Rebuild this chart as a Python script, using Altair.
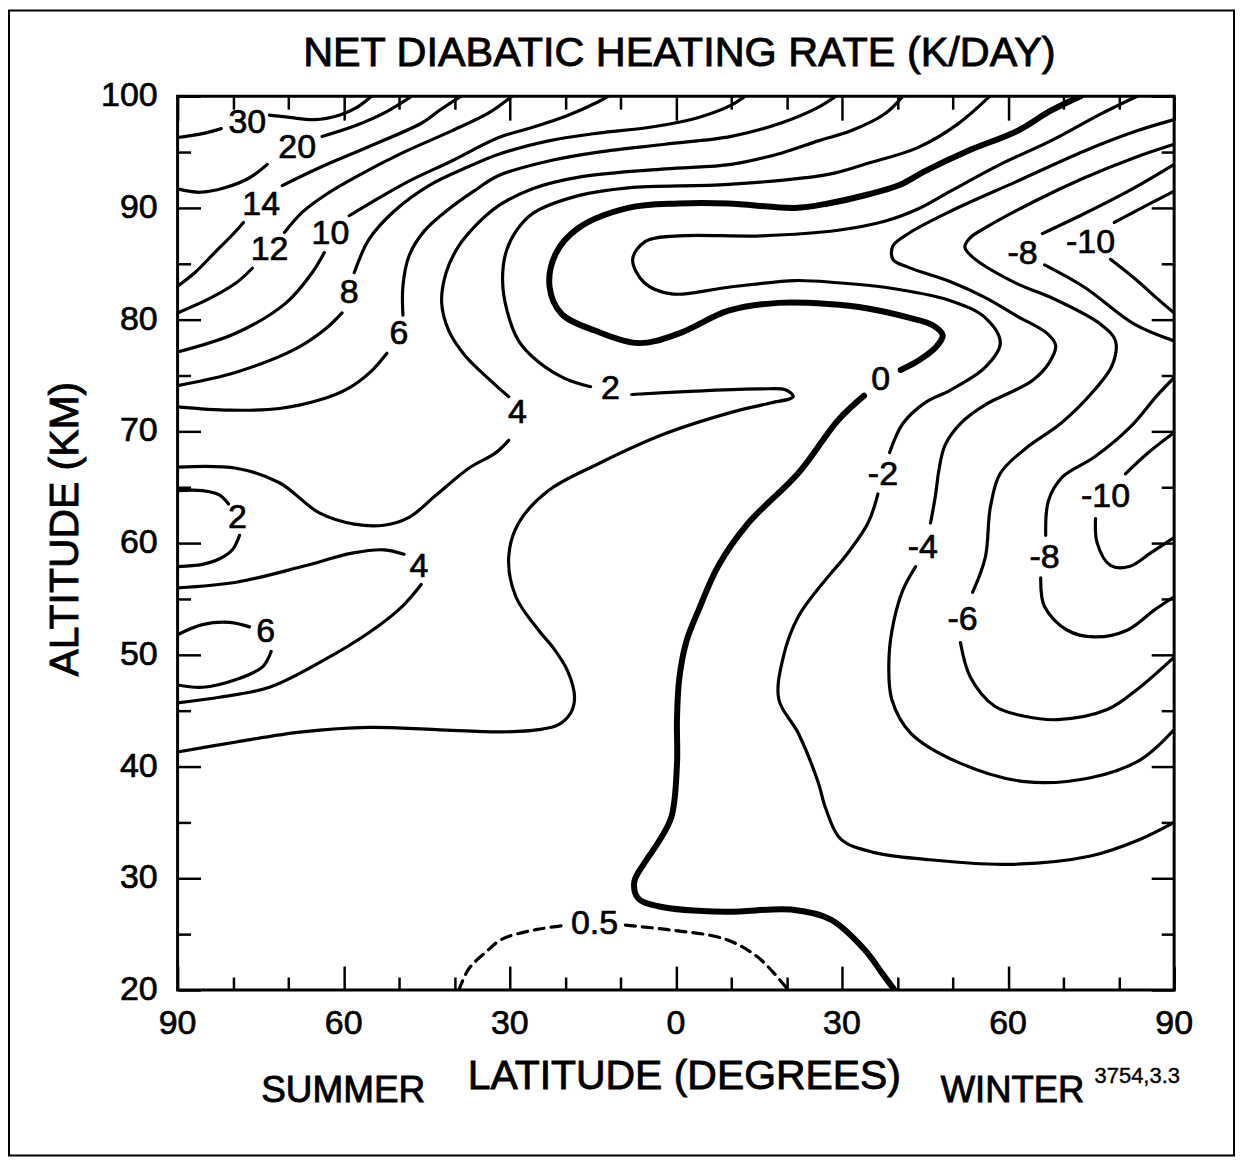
import altair as alt
import pandas as pd

# Latitude in degrees: negative = summer hemisphere (left), positive = winter hemisphere (right)
# Altitude in km. Each contour is split where its label interrupts it.

# +30
c30_lat_1 = [-90, -86.0, -82.1]
c30_alt_1 = [96.3, 96.6, 97.1]
c30_lat_2 = [-73.4, -69.8, -65.3, -60.8, -57.6, -55.0]
c30_alt_2 = [98.3, 98.1, 97.9, 98.3, 99.0, 100]
# +20
c20_lat_1 = [-90, -86.0, -81.5, -77.0, -73.8]
c20_alt_1 = [91.7, 91.4, 91.8, 92.7, 93.9]
c20_lat_2 = [-63.9, -57.7, -52.3, -47.7]
c20_alt_2 = [96.4, 97.4, 98.6, 100]
# +14
c14_lat_1 = [-90, -86.9, -83.3, -79.7, -78.1]
c14_alt_1 = [83.0, 84.2, 86.0, 87.8, 88.7]
c14_lat_2 = [-71.1, -64.4, -55.4, -45.9, -42.8, -38.8]
c14_alt_2 = [92.0, 93.6, 95.5, 97.6, 98.7, 100]
# +12
c12_lat_1 = [-90, -84.2, -79.4, -76.5]
c12_alt_1 = [80.6, 81.9, 83.3, 84.6]
c12_lat_2 = [-70.7, -67.5, -63.2, -57.7, -49.5, -40.5, -33.8, -29.6]
c12_alt_2 = [87.8, 89.6, 91.2, 92.8, 94.9, 96.9, 98.5, 100]
# +10
c10_lat_1 = [-90, -79.4, -70.4, -65.7, -63.5]
c10_alt_1 = [77.1, 78.8, 81.5, 84.2, 86.0]
c10_lat_2 = [-59.0, -53.6, -48.2, -40.5, -32.0, -26.0, -19.9, -14.0, -12.2]
c10_alt_2 = [89.3, 90.9, 92.4, 94.2, 96.3, 97.2, 98.2, 99.5, 100]
# +8
c8_lat_1 = [-90, -79.4, -68.6, -63.2, -60.3]
c8_alt_1 = [74.1, 75.3, 77.4, 79.2, 80.6]
c8_lat_2 = [-58.1, -55.4, -50.9, -44.6, -37.4, -32.0, -23.0, -14.0, -5.0, 4.1, 10.0, 12.5]
c8_alt_2 = [84.2, 87.2, 89.7, 92.0, 93.7, 94.8, 96.0, 96.7, 97.2, 98.1, 99.2, 100]
# +6 (upper)
c6_lat_1 = [-90, -80.6, -71.6, -64.4, -59.0, -55.0, -52.2]
c6_alt_1 = [72.2, 71.9, 72.05, 72.8, 73.9, 75.4, 77.0]
c6_lat_2 = [-49.3, -49.3, -48.2, -45.5, -41.0, -36.5, -32.0, -23.0, -14.0, -1.9, 10.0, 19.0, 25.7, 28.9]
c6_alt_2 = [80.4, 83.0, 85.7, 87.9, 89.9, 91.5, 92.9, 94.2, 95.0, 95.7, 96.4, 97.6, 99.0, 100]
# +4 (upper)
c4_lat_1 = [-90, -79.4, -71.6, -64.4, -58.1, -52.7, -48.2, -43.3, -37.4, -32.5, -30.2]
c4_alt_1 = [66.8, 66.7, 65.4, 62.7, 61.7, 61.6, 62.3, 64.3, 66.7, 68.1, 69.2]
c4_lat_2 = [-30.2, -33.8, -38.1, -41.0, -42.3, -41.5, -39.2, -35.6, -32.0, -26.0, -17.0, -1.9,
            10.0, 19.0, 25.7, 31.6, 37.7, 41.0]
c4_alt_2 = [73.1, 74.7, 76.8, 79.0, 81.5, 84.2, 86.6, 88.7, 90.2, 91.7, 92.8, 93.5,
            93.9, 94.9, 96.0, 96.9, 98.4, 100]
# +2 tongue near the summer pole
c2t_lat_1 = [-90, -85.5, -82.4, -80.8]
c2t_alt_1 = [64.7, 64.7, 64.3, 63.5]
c2t_lat_2 = [-78.8, -80.1, -82.4, -85.5, -90]
c2t_alt_2 = [60.7, 59.4, 58.6, 58.1, 57.9]
# +4 tongue (stratopause)
c4t_lat_1 = [-90, -79.4, -67.5, -58.5, -52.7, -49.1]
c4t_alt_1 = [56.0, 56.5, 57.9, 59.1, 59.4, 59.0]
c4t_lat_2 = [-46.0, -49.5, -55.4, -64.4, -73.4, -82.4, -90]
c4t_alt_2 = [56.3, 54.3, 52.0, 49.3, 47.1, 46.2, 45.7]
# +6 tongue
c6t_lat_1 = [-90, -85.5, -80.6, -77.0]
c6t_alt_1 = [51.8, 52.7, 52.9, 52.5]
c6t_lat_2 = [-73.1, -74.7, -79.4, -85.5, -90]
c6t_alt_2 = [50.3, 48.9, 47.8, 47.1, 47.3]
# +2 main
c2_lat_1 = [-90, -79.4, -67.5, -55.4, -43.3, -31.4, -24.8, -21.2, -19.0, -18.3, -19.5, -22.1,
            -24.8, -28.9, -30.2, -28.4, -23.0, -14.0, -1.9, 10.0, 16.7, 21.2, 19.9, 15.4, 3.5, -8.0]
c2_alt_1 = [41.3, 42.2, 43.1, 43.5, 43.3, 43.1, 43.3, 43.75, 44.8, 46.2, 48.5, 50.6,
            52.2, 55.2, 58.75, 61.8, 64.7, 67.1, 69.8, 71.7, 72.5, 73.1, 73.7, 73.8, 73.6, 73.3]
c2_lat_2 = [-15.4, -19.9, -24.8, -28.4, -30.5, -31.3, -30.7, -28.9, -25.7, -17.6, -8.6, 9.5,
            27.5, 34.7, 43.7, 50.9, 56.7]
c2_alt_2 = [74.0, 74.7, 76.2, 78.1, 80.8, 83.5, 86.0, 87.9, 89.55, 91.1, 91.8, 92.1,
            93.0, 94.0, 95.4, 97.5, 100]
# 0 (heavy line)
c0_lat_1 = [73.1, 67.7, 61.7, 52.7, 45.0, 40.6, 34.7, 27.5, 21.5, 9.5, 0.5, -8.6, -17.6, -21.7,
            -22.8, -20.6, -14.5, -6.8, 0.5, 9.5, 18.5, 27.5, 34.7, 41.9, 46.4, 48.2, 46.9, 43.7, 40.6]
c0_alt_1 = [100, 98.7, 96.9, 95.1, 93.3, 92.1, 91.2, 90.4, 90.0, 90.4, 90.4, 90.0, 88.2, 85.9,
            82.9, 80.5, 79.0, 77.9, 78.75, 80.8, 81.5, 81.4, 81.0, 80.2, 79.5, 78.6, 77.5, 76.3, 75.5]
c0_lat_2 = [34.0, 29.3, 22.1, 13.1, 7.7, 4.1, 1.9, 0.6, 0.2, 0.2, -0.8, -3.2, -5.5, -7.5,
            -6.8, -3.2, 8.9, 20.8, 28.0, 34.1, 37.4, 39.5]
c0_alt_2 = [73.2, 71.0, 66.25, 61.8, 58.0, 54.0, 51.2, 47.8, 44.2, 40.2, 35.5, 33.2, 31.5, 29.7,
            28.2, 27.5, 27.0, 27.2, 26.3, 23.6, 21.4, 20]
# 0.5 (dashed)
c05_lat_1 = [-39.2, -37.4, -34.3, -31.4, -25.3, -19.7]
c05_alt_1 = [20, 21.9, 23.4, 24.55, 25.4, 25.8]
c05_lat_2 = [-9.1, -1.4, 8.9, 14.9, 20.3]
c05_alt_2 = [25.8, 25.4, 24.55, 22.9, 20]
# -2
cm2_lat_1 = [83.3, 76.7, 67.7, 58.6, 49.6, 43.7, 37.7, 29.3, 15.4, 0.5, -5.5, -7.8, -5.7, -0.8,
             9.5, 21.5, 29.3, 37.7, 49.6, 55.8, 58.6, 55.8, 49.6, 45.1, 41.0, 38.6]
cm2_alt_1 = [100, 98.4, 96.0, 93.9, 91.5, 89.9, 88.8, 88.0, 87.5, 87.5, 87.0, 85.4, 83.3, 82.3,
             82.9, 83.5, 83.3, 82.9, 81.7, 80.2, 77.9, 75.7, 73.7, 72.6, 70.7, 68.1]
cm2_lat_2 = [36.5, 34.7, 30.5, 27.5, 22.1, 19.4, 18.6, 22.1, 25.7, 27.1, 29.8, 35.9, 45.0, 59.9,
             74.9, 83.9, 90]
cm2_alt_2 = [64.4, 61.8, 58.75, 57.0, 53.4, 49.8, 46.0, 43.0, 38.6, 36.2, 33.5, 32.3, 31.7, 31.25,
             32.0, 33.5, 35.0]
# -4
cm4_lat_1 = [90, 83.3, 73.8, 61.7, 49.6, 42.3, 39.2, 39.2, 41.9, 49.6, 55.8, 61.7, 67.1, 68.6,
             67.5, 64.4, 60.5, 56.3, 51.4, 48.6, 47.5, 46.9, 46.0]
cm4_alt_1 = [97.9, 96.9, 95.1, 92.4, 89.7, 87.8, 86.6, 85.4, 84.7, 83.4, 82.0, 80.3, 78.75, 77.7,
             76.2, 74.55, 73.5, 72.5, 70.7, 68.75, 66.5, 64.3, 61.8]
cm4_lat_2 = [43.3, 41.0, 39.4, 38.5, 39.0, 42.4, 50.9, 63.0, 74.9, 83.9, 90]
cm4_alt_2 = [57.9, 55.8, 53.1, 49.8, 46.0, 43.0, 40.4, 38.65, 39.0, 40.6, 43.3]
# -6
cm6_lat_1 = [90, 82.8, 73.8, 64.8, 55.8, 53.1, 52.2, 53.6, 61.7, 67.7, 76.7, 79.4, 78.8, 75.6,
             69.5, 63.5, 58.6, 56.8, 55.9, 53.6]
cm6_alt_1 = [95.7, 94.5, 92.7, 90.6, 88.2, 87.3, 86.5, 85.6, 83.2, 82.0, 79.6, 78.1, 75.9, 73.7,
             70.7, 68.6, 66.25, 63.2, 58.75, 55.6]
cm6_lat_2 = [51.4, 53.2, 57.6, 63.0, 68.9, 77.9, 83.3, 90]
cm6_alt_2 = [51.1, 48.0, 45.4, 44.5, 44.2, 45.1, 46.9, 49.8]
# -8 (upper core)
cm8u_lat_1 = [90, 82.8, 73.8, 66.2]
cm8u_alt_1 = [93.9, 91.8, 89.5, 87.7]
cm8u_lat_2 = [66.6, 73.8, 82.8, 90]
cm8u_alt_2 = [84.9, 82.9, 79.6, 78.1]
# -10 (upper core)
cm10u_lat_1 = [90, 85.7, 79.2]
cm10u_alt_1 = [91.5, 90.4, 88.7]
cm10u_lat_2 = [78.5, 83.3, 86.9, 90]
cm10u_alt_2 = [85.4, 83.5, 81.9, 80.6]
# -8 (lower core)
cm8l_lat_1 = [90, 86.9, 82.1, 75.6, 69.8, 67.3, 66.8]
cm8l_alt_1 = [74.8, 73.2, 70.4, 67.7, 65.9, 63.8, 60.7]
cm8l_lat_2 = [65.9, 66.6, 70.7, 75.6, 81.5, 86.4, 90]
cm8l_alt_2 = [56.9, 54.3, 52.2, 51.6, 52.2, 54.0, 55.2]
# -10 (lower core)
cm10l_lat_1 = [90, 85.1, 81.2]
cm10l_alt_1 = [69.9, 68.0, 66.2]
cm10l_lat_2 = [75.8, 76.1, 78.5, 81.9, 85.7, 90]
cm10l_alt_2 = [62.2, 60.0, 58.0, 57.9, 59.1, 60.5]

# contour labels
label_text = ["30", "20", "14", "12", "10", "8", "6", "4", "2", "2", "4", "6",
              "0", "-2", "-4", "-6", "-8", "-10", "-8", "-10", "0.5"]
label_lat = [-77.4, -68.4, -74.9, -73.4, -62.4, -59.0, -50.0, -28.6, -11.8, -79.2, -46.4, -74.1,
             37.0, 37.4, 44.6, 51.8, 62.6, 74.9, 66.6, 77.6, -14.7]
label_alt = [97.6, 95.4, 90.3, 86.2, 87.7, 82.4, 78.7, 71.6, 73.8, 62.2, 57.9, 52.0,
             74.6, 66.1, 59.55, 53.1, 85.9, 86.9, 58.65, 64.1, 25.9]

# axis ticks and tick labels
x_major = [-90, -60, -30, 0, 30, 60, 90]
x_major_text = ["90", "60", "30", "0", "30", "60", "90"]
x_minor = [-80, -70, -50, -40, -20, -10, 10, 20, 40, 50, 70, 80]
y_major = [20, 30, 40, 50, 60, 70, 80, 90, 100]
y_major_text = ["20", "30", "40", "50", "60", "70", "80", "90", "100"]
y_minor = [25, 35, 45, 55, 65, 75, 85, 95]

SEGMENTS = [
    ("thin", c30_lat_1, c30_alt_1), ("thin", c30_lat_2, c30_alt_2),
    ("thin", c20_lat_1, c20_alt_1), ("thin", c20_lat_2, c20_alt_2),
    ("thin", c14_lat_1, c14_alt_1), ("thin", c14_lat_2, c14_alt_2),
    ("thin", c12_lat_1, c12_alt_1), ("thin", c12_lat_2, c12_alt_2),
    ("thin", c10_lat_1, c10_alt_1), ("thin", c10_lat_2, c10_alt_2),
    ("thin", c8_lat_1, c8_alt_1), ("thin", c8_lat_2, c8_alt_2),
    ("thin", c6_lat_1, c6_alt_1), ("thin", c6_lat_2, c6_alt_2),
    ("thin", c4_lat_1, c4_alt_1), ("thin", c4_lat_2, c4_alt_2),
    ("thin", c2t_lat_1, c2t_alt_1), ("thin", c2t_lat_2, c2t_alt_2),
    ("thin", c4t_lat_1, c4t_alt_1), ("thin", c4t_lat_2, c4t_alt_2),
    ("thin", c6t_lat_1, c6t_alt_1), ("thin", c6t_lat_2, c6t_alt_2),
    ("thin", c2_lat_1, c2_alt_1), ("thin", c2_lat_2, c2_alt_2),
    ("thick", c0_lat_1, c0_alt_1), ("thick", c0_lat_2, c0_alt_2),
    ("dash", c05_lat_1, c05_alt_1), ("dash", c05_lat_2, c05_alt_2),
    ("thin", cm2_lat_1, cm2_alt_1), ("thin", cm2_lat_2, cm2_alt_2),
    ("thin", cm4_lat_1, cm4_alt_1), ("thin", cm4_lat_2, cm4_alt_2),
    ("thin", cm6_lat_1, cm6_alt_1), ("thin", cm6_lat_2, cm6_alt_2),
    ("thin", cm8u_lat_1, cm8u_alt_1), ("thin", cm8u_lat_2, cm8u_alt_2),
    ("thin", cm10u_lat_1, cm10u_alt_1), ("thin", cm10u_lat_2, cm10u_alt_2),
    ("thin", cm8l_lat_1, cm8l_alt_1), ("thin", cm8l_lat_2, cm8l_alt_2),
    ("thin", cm10l_lat_1, cm10l_alt_1), ("thin", cm10l_lat_2, cm10l_alt_2),
]

rows = []
for i, (style, lats, alts) in enumerate(SEGMENTS):
    for j, (la, al) in enumerate(zip(lats, alts)):
        rows.append({"lat": la, "alt": al, "seg": f"s{i}", "ord": j, "style": style})
lines = pd.DataFrame(rows)
thin_df = lines[lines["style"] == "thin"]
thick_df = lines[lines["style"] == "thick"]
dash_df = lines[lines["style"] == "dash"]
lab_df = pd.DataFrame({"label": label_text, "lat": label_lat, "alt": label_alt})
xt_df = pd.DataFrame({"v": x_major, "t": x_major_text})
yt_df = pd.DataFrame({"v": y_major, "t": y_major_text})
one = pd.DataFrame({"k": [0]})

W, H = 999, 896
FONT = "Liberation Sans, Arial, Helvetica, sans-serif"
XS = alt.Scale(domain=[-90, 90], nice=False, zero=False)
YS = alt.Scale(domain=[20, 100], nice=False, zero=False)


def tick_axis(orient, values, size, offset):
    return alt.Axis(orient=orient, values=values, tickSize=size, offset=offset,
                    labels=False, domain=False, grid=False, ticks=True,
                    tickColor="black", tickWidth=2.5, title=None)


line_kw = dict(color="black", interpolate="catmull-rom", strokeCap="round",
               strokeJoin="round", clip=True)

thin = alt.Chart(thin_df).mark_line(strokeWidth=3.2, **line_kw).encode(
    x=alt.X("lat:Q", scale=XS, axis=tick_axis("top", x_major, 24, -H)),
    y=alt.Y("alt:Q", scale=YS, axis=tick_axis("right", y_major, 23, -W)),
    detail="seg:N", order=alt.Order("ord:Q"))

thick = alt.Chart(thick_df).mark_line(strokeWidth=6, **line_kw).encode(
    x=alt.X("lat:Q", scale=XS, axis=tick_axis("top", x_minor, 13, -H)),
    y=alt.Y("alt:Q", scale=YS, axis=tick_axis("right", y_minor, 13, -W)),
    detail="seg:N", order=alt.Order("ord:Q"))

dashed = alt.Chart(dash_df).mark_line(strokeWidth=3.2, strokeDash=[10, 7], **line_kw).encode(
    x=alt.X("lat:Q", scale=XS, axis=tick_axis("bottom", x_major, 24, -H)),
    y=alt.Y("alt:Q", scale=YS, axis=tick_axis("left", y_major, 23, -W)),
    detail="seg:N", order=alt.Order("ord:Q"))

labels = alt.Chart(lab_df).mark_text(font=FONT, fontSize=34, color="black", stroke="black",
                                     strokeWidth=0.7, align="center", baseline="middle").encode(
    x=alt.X("lat:Q", scale=XS, axis=tick_axis("bottom", x_minor, 13, -H)),
    y=alt.Y("alt:Q", scale=YS, axis=tick_axis("left", y_minor, 13, -W)),
    text="label:N")

x_ticklabels = alt.Chart(xt_df).mark_text(font=FONT, fontSize=34, color="black", stroke="black",
                                          strokeWidth=0.7, align="center", baseline="middle").encode(
    x=alt.X("v:Q", scale=XS, axis=None), y=alt.value(H + 34), text="t:N")

y_ticklabels = alt.Chart(yt_df).mark_text(font=FONT, fontSize=34, color="black", stroke="black",
                                          strokeWidth=0.7, align="right", baseline="middle").encode(
    y=alt.Y("v:Q", scale=YS, axis=None), x=alt.value(-20), text="t:N")


def note(text, x, y, size, angle=0, sw=0.9):
    return alt.Chart(one).mark_text(text=text, font=FONT, fontSize=size, color="black",
                                    stroke="black", strokeWidth=sw,
                                    align="center", baseline="middle", angle=angle).encode(
        x=alt.value(x), y=alt.value(y))


notes = [
    note("NET DIABATIC HEATING RATE (K/DAY)", 503, -42, 41.5),
    note("LATITUDE (DEGREES)", 508, 983, 41),
    note("ALTITUDE (KM)", -112, 434, 41, angle=270),
    note("SUMMER", 166, 997, 37),
    note("WINTER", 837, 997, 36.5),
    note("3754,3.3", 962, 982, 22, sw=0.4),
]

frame = alt.Chart(one).mark_rect(filled=False, color="black", strokeWidth=2).encode(
    x=alt.value(-169), x2=alt.value(1059), y=alt.value(-86), y2=alt.value(1062))

chart = alt.layer(thin, thick, dashed, labels, x_ticklabels, y_ticklabels, frame, *notes).resolve_axis(
    x="independent", y="independent"
).properties(
    width=W, height=H,
    autosize=alt.AutoSizeParams(type="none"),
    padding={"left": 170, "top": 87, "right": 63, "bottom": 171},
    background="white",
).configure_view(stroke="black", strokeWidth=3)

chart.save("out.html", embed_options={"renderer": "svg", "actions": False})
